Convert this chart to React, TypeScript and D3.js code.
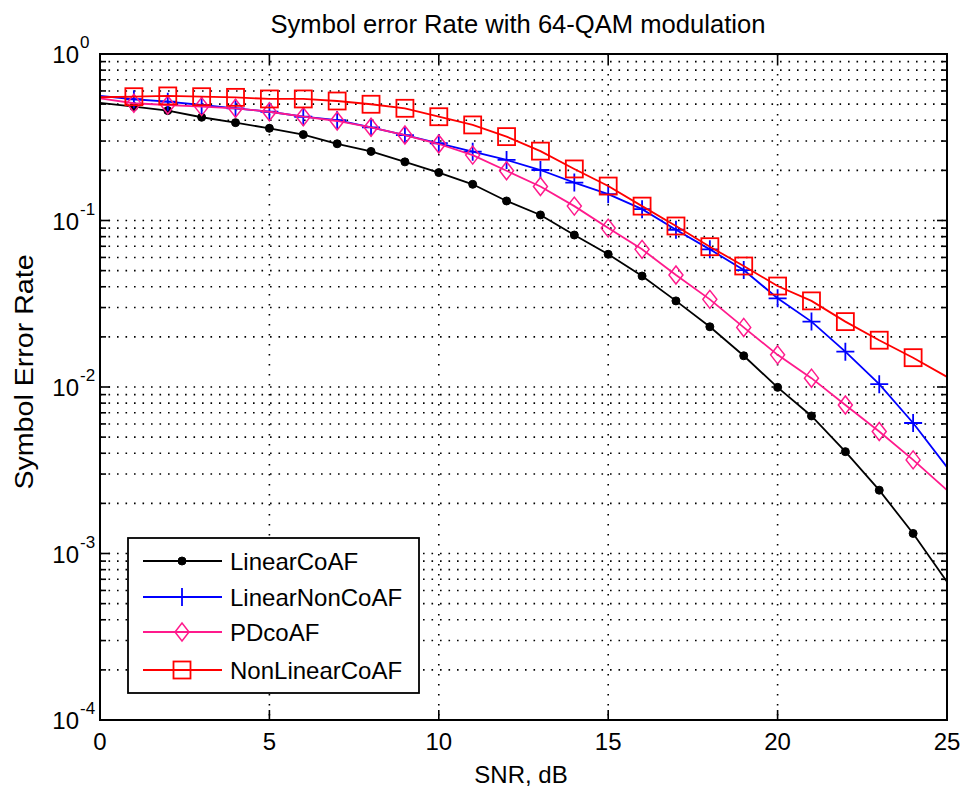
import React from "react";
import * as d3 from "d3";

const snr = d3.range(0, 26);
const markerIdx = d3.range(1, 25);

const linearCoAF = [0.508, 0.483, 0.457, 0.417, 0.387, 0.358, 0.328, 0.289, 0.26, 0.225, 0.194, 0.165, 0.131, 0.108, 0.0818, 0.0627, 0.0464, 0.0329, 0.023, 0.0154, 0.00995, 0.0067, 0.00409, 0.0024, 0.00132, 0.000677];
const linearNonCoAF = [0.56, 0.535, 0.517, 0.494, 0.472, 0.45, 0.42, 0.401, 0.363, 0.326, 0.291, 0.259, 0.231, 0.201, 0.169, 0.144, 0.117, 0.088, 0.0671, 0.0504, 0.0341, 0.0247, 0.0163, 0.0104, 0.00608, 0.0033];
const pdCoAF = [0.542, 0.506, 0.494, 0.483, 0.472, 0.45, 0.42, 0.396, 0.363, 0.326, 0.288, 0.247, 0.199, 0.16, 0.122, 0.09, 0.0671, 0.0471, 0.0336, 0.0228, 0.0156, 0.0113, 0.0078, 0.0054, 0.00365, 0.0024];
const nonLinearCoAF = [0.55, 0.554, 0.56, 0.554, 0.549, 0.537, 0.537, 0.522, 0.499, 0.472, 0.42, 0.375, 0.319, 0.261, 0.204, 0.161, 0.122, 0.0927, 0.0696, 0.0533, 0.0404, 0.0329, 0.0247, 0.0191, 0.015, 0.0115];

const seriesNames = ["LinearCoAF", "LinearNonCoAF", "PDcoAF", "NonLinearCoAF"];
const seriesData = [linearCoAF, linearNonCoAF, pdCoAF, nonLinearCoAF];
const seriesColors = ["#000000", "#0000ff", "#ff1a8c", "#ff0000"];
const seriesMarkers = ["dot", "plus", "diamond", "square"];

const xTicks = [0, 5, 10, 15, 20, 25];
const yExps = [0, -1, -2, -3, -4];

const title = "Symbol error Rate with 64-QAM modulation";
const xLabel = "SNR, dB";
const yLabel = "Symbol Error Rate";

const FONT = "'Liberation Sans', Arial, Helvetica, sans-serif";

function Marker({ type, x, y, color }: { type: string; x: number; y: number; color: string }) {
  if (type === "dot") return <circle cx={x} cy={y} r={4} fill={color} stroke={color} strokeWidth={1} />;
  if (type === "plus")
    return (
      <path d={`M${x - 9},${y}H${x + 9}M${x},${y - 9}V${y + 9}`} stroke={color} strokeWidth={1.8} fill="none" />
    );
  if (type === "diamond")
    return (
      <path d={`M${x},${y - 9}L${x + 7},${y}L${x},${y + 9}L${x - 7},${y}Z`} stroke={color} strokeWidth={1.5} fill="none" />
    );
  return <rect x={x - 8.5} y={y - 8.5} width={17} height={17} stroke={color} strokeWidth={1.8} fill="none" />;
}

export default function App() {
  const W = 961, H = 789;
  const L = 100, R = 947, T = 54, B = 720;
  const x = d3.scaleLinear().domain([0, 25]).range([L, R]);
  const y = d3.scaleLog().domain([1e-4, 1]).range([B, T]);

  const minorVals: number[] = [];
  for (let e = -4; e < 0; e++) for (let m = 2; m <= 9; m++) minorVals.push(m * Math.pow(10, e));

  const line = (vals: number[]) =>
    d3
      .line<number>()
      .x((_, i) => x(snr[i]))
      .y((v) => y(v))(vals) as string;

  const legendRows = [561, 597, 632, 670];

  return (
    <div style={{ position: "fixed", left: 0, top: 0 }}>
      <svg width={W} height={H} style={{ display: "block", background: "#fff" }} fontFamily={FONT}>
        <rect x={0} y={0} width={W} height={H} fill="#fff" />
        {/* grid */}
        <g stroke="#000" strokeWidth={1.6} fill="none">
          {[...minorVals, 0.1, 0.01, 0.001].map((v, i) => (
            <line key={"h" + i} x1={L} x2={R} y1={y(v)} y2={y(v)} strokeDasharray="1.6 6.9" />
          ))}
          {xTicks.slice(1, -1).map((t) => (
            <line key={"v" + t} x1={x(t)} x2={x(t)} y1={T} y2={B} strokeDasharray="1.6 8.4" />
          ))}
        </g>
        {/* ticks */}
        <g stroke="#000" strokeWidth={1.6}>
          {minorVals.map((v, i) => (
            <g key={"mt" + i}>
              <line x1={L} x2={L + 6} y1={y(v)} y2={y(v)} />
              <line x1={R} x2={R - 6} y1={y(v)} y2={y(v)} />
            </g>
          ))}
          {yExps.map((e) => (
            <g key={"Mt" + e}>
              <line x1={L} x2={L + 10} y1={y(Math.pow(10, e))} y2={y(Math.pow(10, e))} />
              <line x1={R} x2={R - 10} y1={y(Math.pow(10, e))} y2={y(Math.pow(10, e))} />
            </g>
          ))}
          {xTicks.map((t) => (
            <g key={"xt" + t}>
              <line x1={x(t)} x2={x(t)} y1={B} y2={B - 10} />
              <line x1={x(t)} x2={x(t)} y1={T} y2={T + 10} />
            </g>
          ))}
        </g>
        {/* series */}
        {seriesData.map((vals, si) => (
          <g key={"s" + si}>
            <path d={line(vals)} fill="none" stroke={seriesColors[si]} strokeWidth={1.8} />
            {markerIdx.map((i) => (
              <Marker key={i} type={seriesMarkers[si]} x={x(snr[i])} y={y(vals[i])} color={seriesColors[si]} />
            ))}
          </g>
        ))}
        {/* axes box */}
        <rect x={L} y={T} width={R - L} height={B - T} fill="none" stroke="#000" strokeWidth={2} />
        {/* tick labels */}
        <g fill="#000">
          {xTicks.map((t) => (
            <text key={"xl" + t} x={x(t)} y={750} fontSize={24} textAnchor="middle">
              {t}
            </text>
          ))}
          {yExps.map((e) => {
            const ty = y(Math.pow(10, e));
            return (
              <g key={"yl" + e}>
                <text x={79} y={ty + 9} fontSize={24} textAnchor="end">
                  10
                </text>
                <text x={80} y={ty - 6} fontSize={17} textAnchor="start">
                  {e}
                </text>
              </g>
            );
          })}
        </g>
        {/* labels */}
        <text x={518} y={33} fontSize={25.6} textAnchor="middle">
          {title}
        </text>
        <text x={521} y={783} fontSize={24} textAnchor="middle">
          {xLabel}
        </text>
        <text transform={`translate(33,372) rotate(-90) scale(1.1,1)`} fontSize={26} textAnchor="middle">
          {yLabel}
        </text>
        {/* legend */}
        <rect x={128} y={538} width={291} height={155} fill="#fff" stroke="#000" strokeWidth={1.8} />
        {seriesNames.map((n, i) => (
          <g key={"lg" + i}>
            <line x1={143} x2={222} y1={legendRows[i]} y2={legendRows[i]} stroke={seriesColors[i]} strokeWidth={1.8} />
            <Marker type={seriesMarkers[i]} x={182} y={legendRows[i]} color={seriesColors[i]} />
            <text x={230} y={legendRows[i] + 9} fontSize={24} fill="#000">
              {n}
            </text>
          </g>
        ))}
      </svg>
    </div>
  );
}
